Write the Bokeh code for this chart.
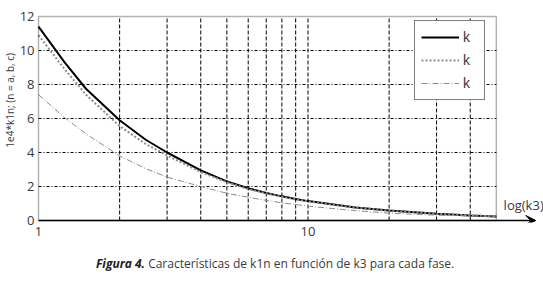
from bokeh.plotting import figure
from bokeh.layouts import column
from bokeh.models import (Range1d, FixedTicker, Legend, LegendItem, Label, Arrow, Title,
                          VeeHead, CustomJSTickFormatter, BoxAnnotation, Div)
from bokeh.embed import file_html
from bokeh.resources import INLINE

k3 = [1, 1.25, 1.5, 2, 2.5, 3, 4, 5, 6, 7, 8, 9, 10, 15, 20, 30, 40, 50]
k1a = [11.4, 9.3, 7.75, 5.9, 4.75, 4.0, 2.95, 2.3, 1.9, 1.62, 1.42, 1.26, 1.14, 0.77, 0.59, 0.39, 0.3, 0.24]
k1b = [10.9, 8.9, 7.4, 5.55, 4.5, 3.82, 2.85, 2.25, 1.85, 1.6, 1.4, 1.24, 1.12, 0.76, 0.58, 0.39, 0.3, 0.24]
k1c = [7.4, 6.05, 5.1, 3.8, 3.05, 2.55, 2.0, 1.6, 1.37, 1.18, 1.04, 0.94, 0.84, 0.58, 0.43, 0.31, 0.27, 0.25]

series_labels = ["1a", "1b", "1c"]
x_ticks = [1, 10]
y_ticks = [0, 2, 4, 6, 8, 10, 12]
x_grid = [2, 3, 4, 5, 6, 7, 8, 9, 10, 20, 30, 40]
y_grid = [2, 4, 6, 8, 10]

X_MIN, X_MAX = 1, 50
Y_MIN, Y_MAX = 0, 12
ARROW_END = 70

FONT = "Open Sans"
TXT = "#3a3a3a"

p = figure(width=543, height=250, x_axis_type="log", output_backend="svg",
           toolbar_location=None, x_range=Range1d(0.983, 74.8),
           y_range=Range1d(-0.118, 12.118),
           min_border_left=35, min_border_top=14, min_border_right=0, min_border_bottom=28)
p.outline_line_color = None
p.xgrid.visible = False
p.ygrid.visible = False

for ax in (p.xaxis[0], p.yaxis[0]):
    ax.major_tick_line_color = None
    ax.minor_tick_line_color = None
    ax.major_tick_out = 0
    ax.major_tick_in = 0
    ax.minor_tick_out = 0
    ax.minor_tick_in = 0
    ax.axis_line_color = None
    ax.major_label_text_font = FONT
    ax.major_label_text_font_size = "13px"
    ax.major_label_text_color = TXT
p.xaxis.ticker = FixedTicker(ticks=x_ticks)
p.xaxis.formatter = CustomJSTickFormatter(code="return String(tick);")
p.xaxis.major_label_standoff = 4
p.yaxis.ticker = FixedTicker(ticks=y_ticks)
p.yaxis.major_label_standoff = 2

p.add_layout(Title(text="\u00a0" * 14 + "1e4*k1n; (n = a, b, c)", align="center",
                   text_font=FONT, text_font_size="10px", text_font_style="normal",
                   text_color=TXT, standoff=0), "left")

# grid lines restricted to the plotting box
p.segment(x0=x_grid, x1=x_grid, y0=[Y_MIN] * len(x_grid), y1=[Y_MAX] * len(x_grid),
          line_color="black", line_width=1, line_dash="4 2")
p.segment(x0=[X_MIN] * len(y_grid), x1=[X_MAX] * len(y_grid), y0=y_grid, y1=y_grid,
          line_color="black", line_width=1, line_dash="3 2 1 2")

ra = p.line(k3, k1a, line_color="black", line_width=2)
rb = p.line(k3, k1b, line_color="#8c8c8c", line_width=2, line_dash="2 2")
rc = p.line(k3, k1c, line_color="#8c8c8c", line_width=1, line_dash="6 2 1 2")

# frame box
p.add_layout(BoxAnnotation(left=X_MIN, right=X_MAX, bottom=Y_MIN, top=Y_MAX,
                           fill_alpha=0, line_color="black", line_width=1.5))

# axis arrow
p.add_layout(Arrow(x_start=X_MIN, y_start=Y_MIN, x_end=ARROW_END, y_end=Y_MIN,
                   line_color="black", line_width=1.5,
                   end=VeeHead(size=10, fill_color="black", line_color="black")))

p.add_layout(Label(x=53.2, y=0.38, text="log(k3)", text_font=FONT,
                   text_font_size="13px", text_color=TXT))

legend = Legend(items=[LegendItem(label="k", renderers=[ra]),
                       LegendItem(label="k", renderers=[rb]),
                       LegendItem(label="k", renderers=[rc])],
                location=(378, 122), orientation="vertical",
                padding=6, spacing=3, margin=0,
                glyph_width=38, glyph_height=20, label_height=20, label_width=15,
                label_standoff=4, label_text_font="Liberation Sans",
                label_text_font_size="14px", label_text_color=TXT,
                border_line_color="black", border_line_width=1.2,
                background_fill_alpha=1)
p.add_layout(legend, "center")

for i, sub in enumerate(series_labels):
    p.add_layout(Label(x=431, y=180 - i * 23, x_units="screen", y_units="screen",
                       text=sub, text_font="Liberation Sans", text_font_size="10px",
                       text_color=TXT, text_baseline="middle", level="overlay"))

caption = Div(text="<span style='font-weight:bold;font-style:italic;color:#222'>Figura 4.</span>"
                   " Características de k1n en función de k3 para cada fase.",
              width=543, height=26, margin=(0, 0, 0, 0),
              styles={"font-family": "'Open Sans'", "font-size": "12px", "color": TXT,
                      "padding-left": "96px", "padding-top": "5px"})

layout = column(p, caption, spacing=0)
open("out.html", "w").write(file_html(layout, INLINE))
